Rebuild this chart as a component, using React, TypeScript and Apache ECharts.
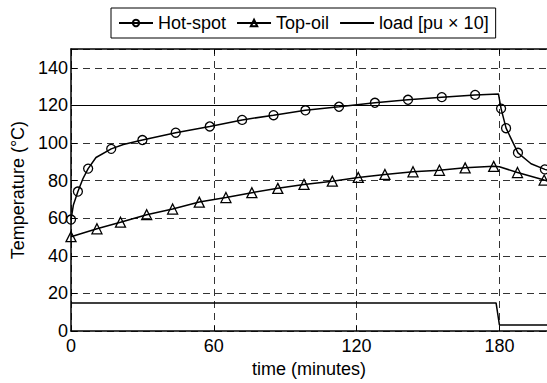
import React, { useEffect, useRef } from "react";
import * as echarts from "echarts";

// Hot-spot temperature [time (min), °C]; 1 = marker drawn
const hotSpotTimes = [0, 1, 2.9, 5, 7.2, 10.5, 16.9, 22, 30, 44, 58.3, 71.9, 85.1, 98.5, 112.6, 127.7, 141.6, 155.8, 169.8, 179.6, 180.7, 182.8, 187.8, 193.3, 199.1, 200];
const hotSpotTemps = [59.3, 67, 74.2, 81, 86.4, 92.3, 96.9, 99.2, 101.6, 105.5, 108.8, 112.3, 114.8, 117.4, 119.3, 121.4, 123, 124.4, 125.6, 126.1, 118.3, 107.9, 94.8, 89, 86, 85.6];
const hotSpotMarked = [1, 0, 1, 0, 1, 0, 1, 0, 1, 1, 1, 1, 1, 1, 1, 1, 1, 1, 1, 0, 1, 1, 1, 0, 1, 0];

const topOilTimes = [0, 10.9, 20.8, 31.8, 42.7, 53.9, 65.1, 76, 86.9, 97.9, 109.8, 120.7, 131.9, 143.7, 154.8, 165.6, 177.6, 180, 187.6, 198.8, 200];
const topOilTemps = [50.2, 54.4, 57.9, 61.9, 64.9, 68.6, 71, 73.6, 75.9, 78, 79.7, 81.7, 83.3, 84.7, 85.5, 86.8, 87.6, 87.4, 84.3, 80.3, 80];
const topOilMarked = [1, 1, 1, 1, 1, 1, 1, 1, 1, 1, 1, 1, 1, 1, 1, 1, 1, 0, 1, 1, 0];

const loadTimes = [0, 178.6, 180, 200];
const loadValues = [15, 15, 3.3, 3.3];

const xTicks = { min: 0, max: 200, interval: 60 };
const yTicks = { min: 0, max: 150, interval: 20 };
const limitLine = 120;

const FONT = "'Liberation Sans', Arial, Helvetica, sans-serif";

export default function App() {
  const ref = useRef<HTMLDivElement>(null);
  useEffect(() => {
    if (!ref.current) return;
    const chart = echarts.init(ref.current, undefined, { renderer: "svg" });
    const mk = (ts: number[], vs: number[], marks: number[]) =>
      ts.map((t, i) => (marks[i] ? { value: [t, vs[i]] } : { value: [t, vs[i]], symbol: "none" }));
    const markerStyle = { color: "rgba(255,255,255,0)", borderColor: "#000", borderWidth: 1.3 };
    const dash = { color: "#333", width: 1, type: [7, 5] as any };
    chart.setOption({
      animation: false,
      textStyle: { fontFamily: FONT, color: "#000" },
      grid: { left: 71, top: 49, width: 478, height: 286 },
      legend: {
        top: 8,
        left: 111,
        itemWidth: 34,
        itemHeight: 8,
        itemGap: 10,
        padding: [6, 7, 6, 7],
        borderColor: "#000",
        borderWidth: 1,
        borderRadius: 0,
        backgroundColor: "#fff",
        textStyle: { fontSize: 18, fontFamily: FONT, color: "#000" },
        data: ["Hot-spot", "Top-oil", "load [pu × 10]"],
      },
      xAxis: [
        {
          type: "value",
          min: xTicks.min,
          max: xTicks.max,
          interval: xTicks.interval,
          name: "time (minutes)",
          nameLocation: "middle",
          nameGap: 26,
          nameTextStyle: { fontSize: 18, fontFamily: FONT, color: "#000" },
          axisLine: { lineStyle: { color: "#000", width: 1.5 } },
          axisTick: { inside: true, length: 5, lineStyle: { color: "#000" } },
          axisLabel: { fontSize: 18, color: "#000", margin: 6, showMaxLabel: false, fontFamily: FONT },
          splitLine: { show: true, lineStyle: dash },
        },
        {
          type: "value",
          position: "top",
          min: xTicks.min,
          max: xTicks.max,
          interval: xTicks.interval,
          axisLine: { lineStyle: { color: "#000", width: 1.5 } },
          axisTick: { inside: true, length: 5, lineStyle: { color: "#000" } },
          axisLabel: { show: false },
          splitLine: { show: false },
        },
      ],
      yAxis: {
        type: "value",
        min: yTicks.min,
        max: yTicks.max,
        interval: yTicks.interval,
        name: "Temperature (°C)",
        nameLocation: "middle",
        nameGap: 43,
        nameTextStyle: { fontSize: 18, fontFamily: FONT, color: "#000" },
        axisLine: { show: true, lineStyle: { color: "#000", width: 1.5 } },
        axisTick: { show: true, inside: true, length: 6, lineStyle: { color: "#000" } },
        axisLabel: { fontSize: 18, color: "#000", margin: 3, showMaxLabel: false, fontFamily: FONT },
        splitLine: { show: true, lineStyle: dash },
      },
      series: [
        {
          name: "Hot-spot",
          type: "line",
          data: mk(hotSpotTimes, hotSpotTemps, hotSpotMarked),
          symbol: "circle",
          symbolSize: 9,
          showAllSymbol: true,
          lineStyle: { color: "#000", width: 1.5 },
          itemStyle: markerStyle,
          markLine: {
            silent: true,
            symbol: "none",
            label: { show: false },
            lineStyle: { color: "#000", width: 1, type: "solid" },
            data: [{ yAxis: limitLine }],
          },
        },
        {
          name: "Top-oil",
          type: "line",
          data: mk(topOilTimes, topOilTemps, topOilMarked),
          symbol: "triangle",
          symbolSize: 10,
          showAllSymbol: true,
          lineStyle: { color: "#000", width: 1.5 },
          itemStyle: markerStyle,
        },
        {
          name: "load [pu × 10]",
          type: "line",
          data: loadTimes.map((t, i) => [t, loadValues[i]]),
          symbol: "none",
          lineStyle: { color: "#000", width: 1.5 },
          itemStyle: { color: "rgba(0,0,0,0)", borderColor: "rgba(0,0,0,0)" },
        },
      ],
    });
    return () => chart.dispose();
  }, []);
  return <div ref={ref} style={{ width: 547, height: 383, position: "absolute", left: 0, top: 0 }} />;
}
